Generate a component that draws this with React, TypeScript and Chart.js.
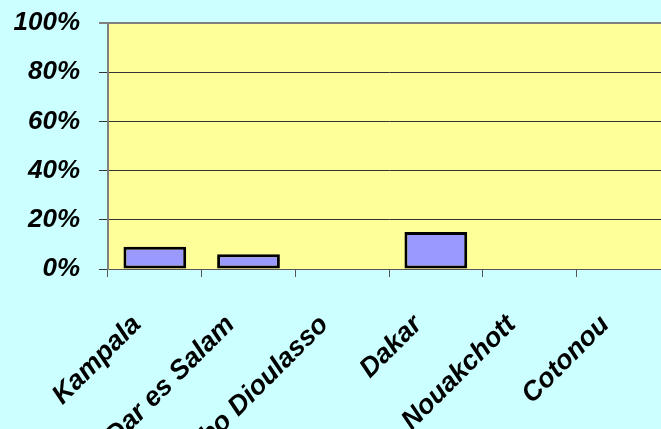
import React, { useEffect, useRef } from "react";
import { Chart, registerables } from "chart.js";

Chart.register(...registerables);

const categories = ["Kampala", "Dar es Salam", "Bobo Dioulasso", "Dakar", "Nouakchott", "Cotonou"];
const shareValues = [0.09, 0.06, 0, 0.15, 0, 0];
const yTickLabels = ["0%", "20%", "40%", "60%", "80%", "100%"];

const plotBg = {
  id: "plotBg",
  beforeDraw(chart: any) {
    const { ctx, chartArea } = chart;
    if (!chartArea) return;
    ctx.save();
    ctx.fillStyle = "#FFFF99";
    ctx.fillRect(chartArea.left, chartArea.top, chartArea.right - chartArea.left, chartArea.bottom - chartArea.top);
    ctx.restore();
  },
};

export default function App() {
  const ref = useRef<HTMLCanvasElement | null>(null);
  useEffect(() => {
    if (!ref.current) return;
    const chart = new Chart(ref.current, {
      type: "bar",
      data: {
        labels: categories,
        datasets: [
          {
            data: shareValues,
            backgroundColor: "#9999FF",
            borderColor: "#000000",
            borderWidth: 3,
            borderSkipped: false,
            barPercentage: 0.67,
            categoryPercentage: 1,
          },
        ],
      },
      options: {
        animation: false,
        responsive: false,
        layout: { padding: { top: 23, right: 10, left: 0, bottom: 0 } },
        plugins: { legend: { display: false }, tooltip: { enabled: false } },
        scales: {
          x: {
            offset: true,
            afterFit: (s: any) => {
              s.height = 160;
            },
            grid: {
              offset: true,
              drawOnChartArea: false,
              drawTicks: true,
              tickLength: 8,
              color: "#555555",
              lineWidth: 1,
            },
            border: { display: true, color: "#555555", width: 1 },
            ticks: {
              autoSkip: false,
              minRotation: 45,
              maxRotation: 45,
              padding: 32,
              labelOffset: -18,
              color: "#000000",
              font: { family: "Arial, 'Liberation Sans', sans-serif", size: 27, weight: "bold", style: "italic" },
            },
          },
          y: {
            min: 0,
            max: 1,
            afterFit: (s: any) => {
              s.width = 108;
              s.paddingTop = 0;
              s.paddingBottom = 0;
            },
            grid: {
              color: (c: any) => (c.tick && c.tick.value === 1 ? "#808080" : "#333333"),
              lineWidth: (c: any) => (c.tick && c.tick.value === 1 ? 2 : 1),
              tickLength: 9,
              drawTicks: true,
            },
            border: { display: true, color: "#808080", width: 2 },
            ticks: {
              stepSize: 0.2,
              padding: 19,
              color: "#000000",
              callback: (_v: any, i: number) => yTickLabels[i],
              font: { family: "Arial, 'Liberation Sans', sans-serif", size: 26, weight: "bold", style: "italic" },
            },
          },
        },
      },
      plugins: [plotBg],
    });
    return () => chart.destroy();
  }, []);
  return (
    <div
      style={{
        position: "fixed",
        left: 0,
        top: 0,
        width: 661,
        height: 429,
        overflow: "hidden",
        background: "#CCFFFF",
      }}
    >
      <canvas ref={ref} width={680} height={429} style={{ display: "block" }} />
    </div>
  );
}
